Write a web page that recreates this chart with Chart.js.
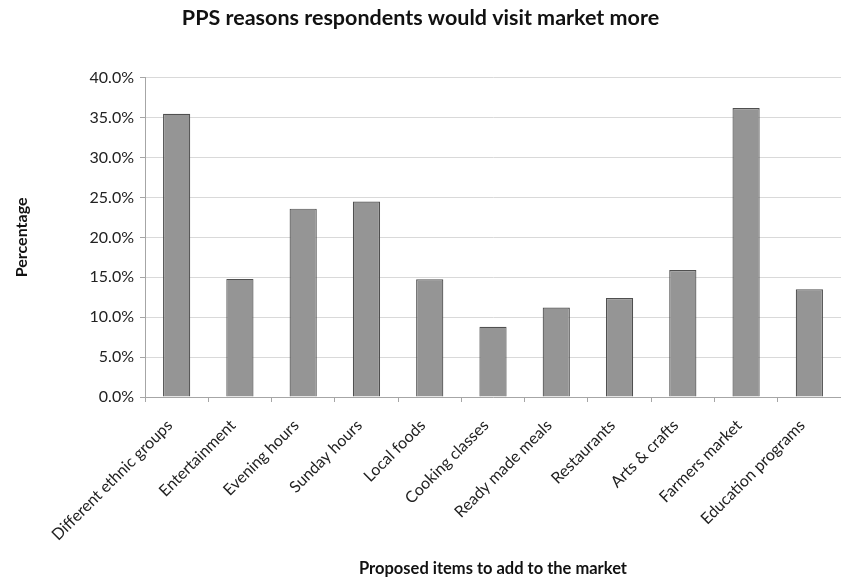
<!DOCTYPE html>
<html>
<head>
<meta charset="utf-8">
<title>PPS reasons respondents would visit market more</title>
<script src="https://cdn.jsdelivr.net/npm/chart.js@4.4.1/dist/chart.umd.min.js"></script>
<style>
  html, body { margin: 0; padding: 0; background: #fff; }
  #wrap { width: 841px; height: 580px; }
</style>
</head>
<body>
<div id="wrap"><canvas id="chart-reasons" width="841" height="580"></canvas></div>
<script>
// ---- Data ----

const items = [
  'Different ethnic groups', 'Entertainment', 'Evening hours', 'Sunday hours',
  'Local foods', 'Cooking classes', 'Ready made meals', 'Restaurants',
  'Arts & crafts', 'Farmers market', 'Education programs'
]
const percentages = [35.5, 14.8, 23.6, 24.5, 14.75, 8.8, 11.2, 12.4, 15.9, 36.2, 13.5]
const yTicks = [0, 5, 10, 15, 20, 25, 30, 35, 40]

const FONT = 'Lato, "Open Sans", sans-serif'

// ---- Chart ----

const ctx = document.getElementById('chart-reasons').getContext('2d')
new Chart(ctx, {
  type: 'bar',
  data: {
    labels: items,
    datasets: [{
      data: percentages,
      backgroundColor: '#959595',
      borderColor: '#505050',
      borderWidth: 1.2,
      barPercentage: 0.43,
      categoryPercentage: 1
    }]
  },
  options: {
    responsive: false,
    animation: false,
    layout: { padding: { top: 0, right: 0, bottom: 0, left: 0 } },
    plugins: {
      legend: { display: false },
      tooltip: { enabled: false },
      title: {
        display: true,
        text: 'PPS reasons respondents would visit market more',
        color: '#111',
        font: { family: FONT, size: 21.5, weight: 'bold' },
        padding: { top: 5, bottom: 47 }
      }
    },
    scales: {
      x: {
        offset: true,
        border: { color: '#a6a6a6' },
        grid: { offset: true, drawOnChartArea: false, drawTicks: true, tickLength: 5, color: '#a6a6a6' },
        ticks: {
          autoSkip: false, maxRotation: 45, minRotation: 45,
          color: '#222', padding: 14, labelOffset: -7,
          font: { family: FONT, size: 16 }
        },
        title: {
          display: true,
          text: 'Proposed items to add to the market',
          color: '#111',
          font: { family: FONT, size: 16.5, weight: 'bold' },
          padding: { top: 0, bottom: 1 }
        },
        afterFit: s => { s.height = 183 }
      },
      y: {
        min: 0, max: 40,
        afterBuildTicks: s => { s.ticks = yTicks.map(v => ({ value: v })) },
        border: { color: '#a6a6a6' },
        grid: { color: '#d9d9d9', tickLength: 5, tickColor: '#a6a6a6' },
        ticks: {
          color: '#222', padding: 6,
          font: { family: FONT, size: 16 },
          callback: v => v.toFixed(1) + '%'
        },
        title: {
          display: true,
          text: 'Percentage',
          color: '#111',
          font: { family: FONT, size: 16, weight: 'bold' },
          padding: { top: 12, bottom: 0 }
        },
        afterFit: s => { s.width = 145 }
      }
    }
  }
})
</script>
</body>
</html>
